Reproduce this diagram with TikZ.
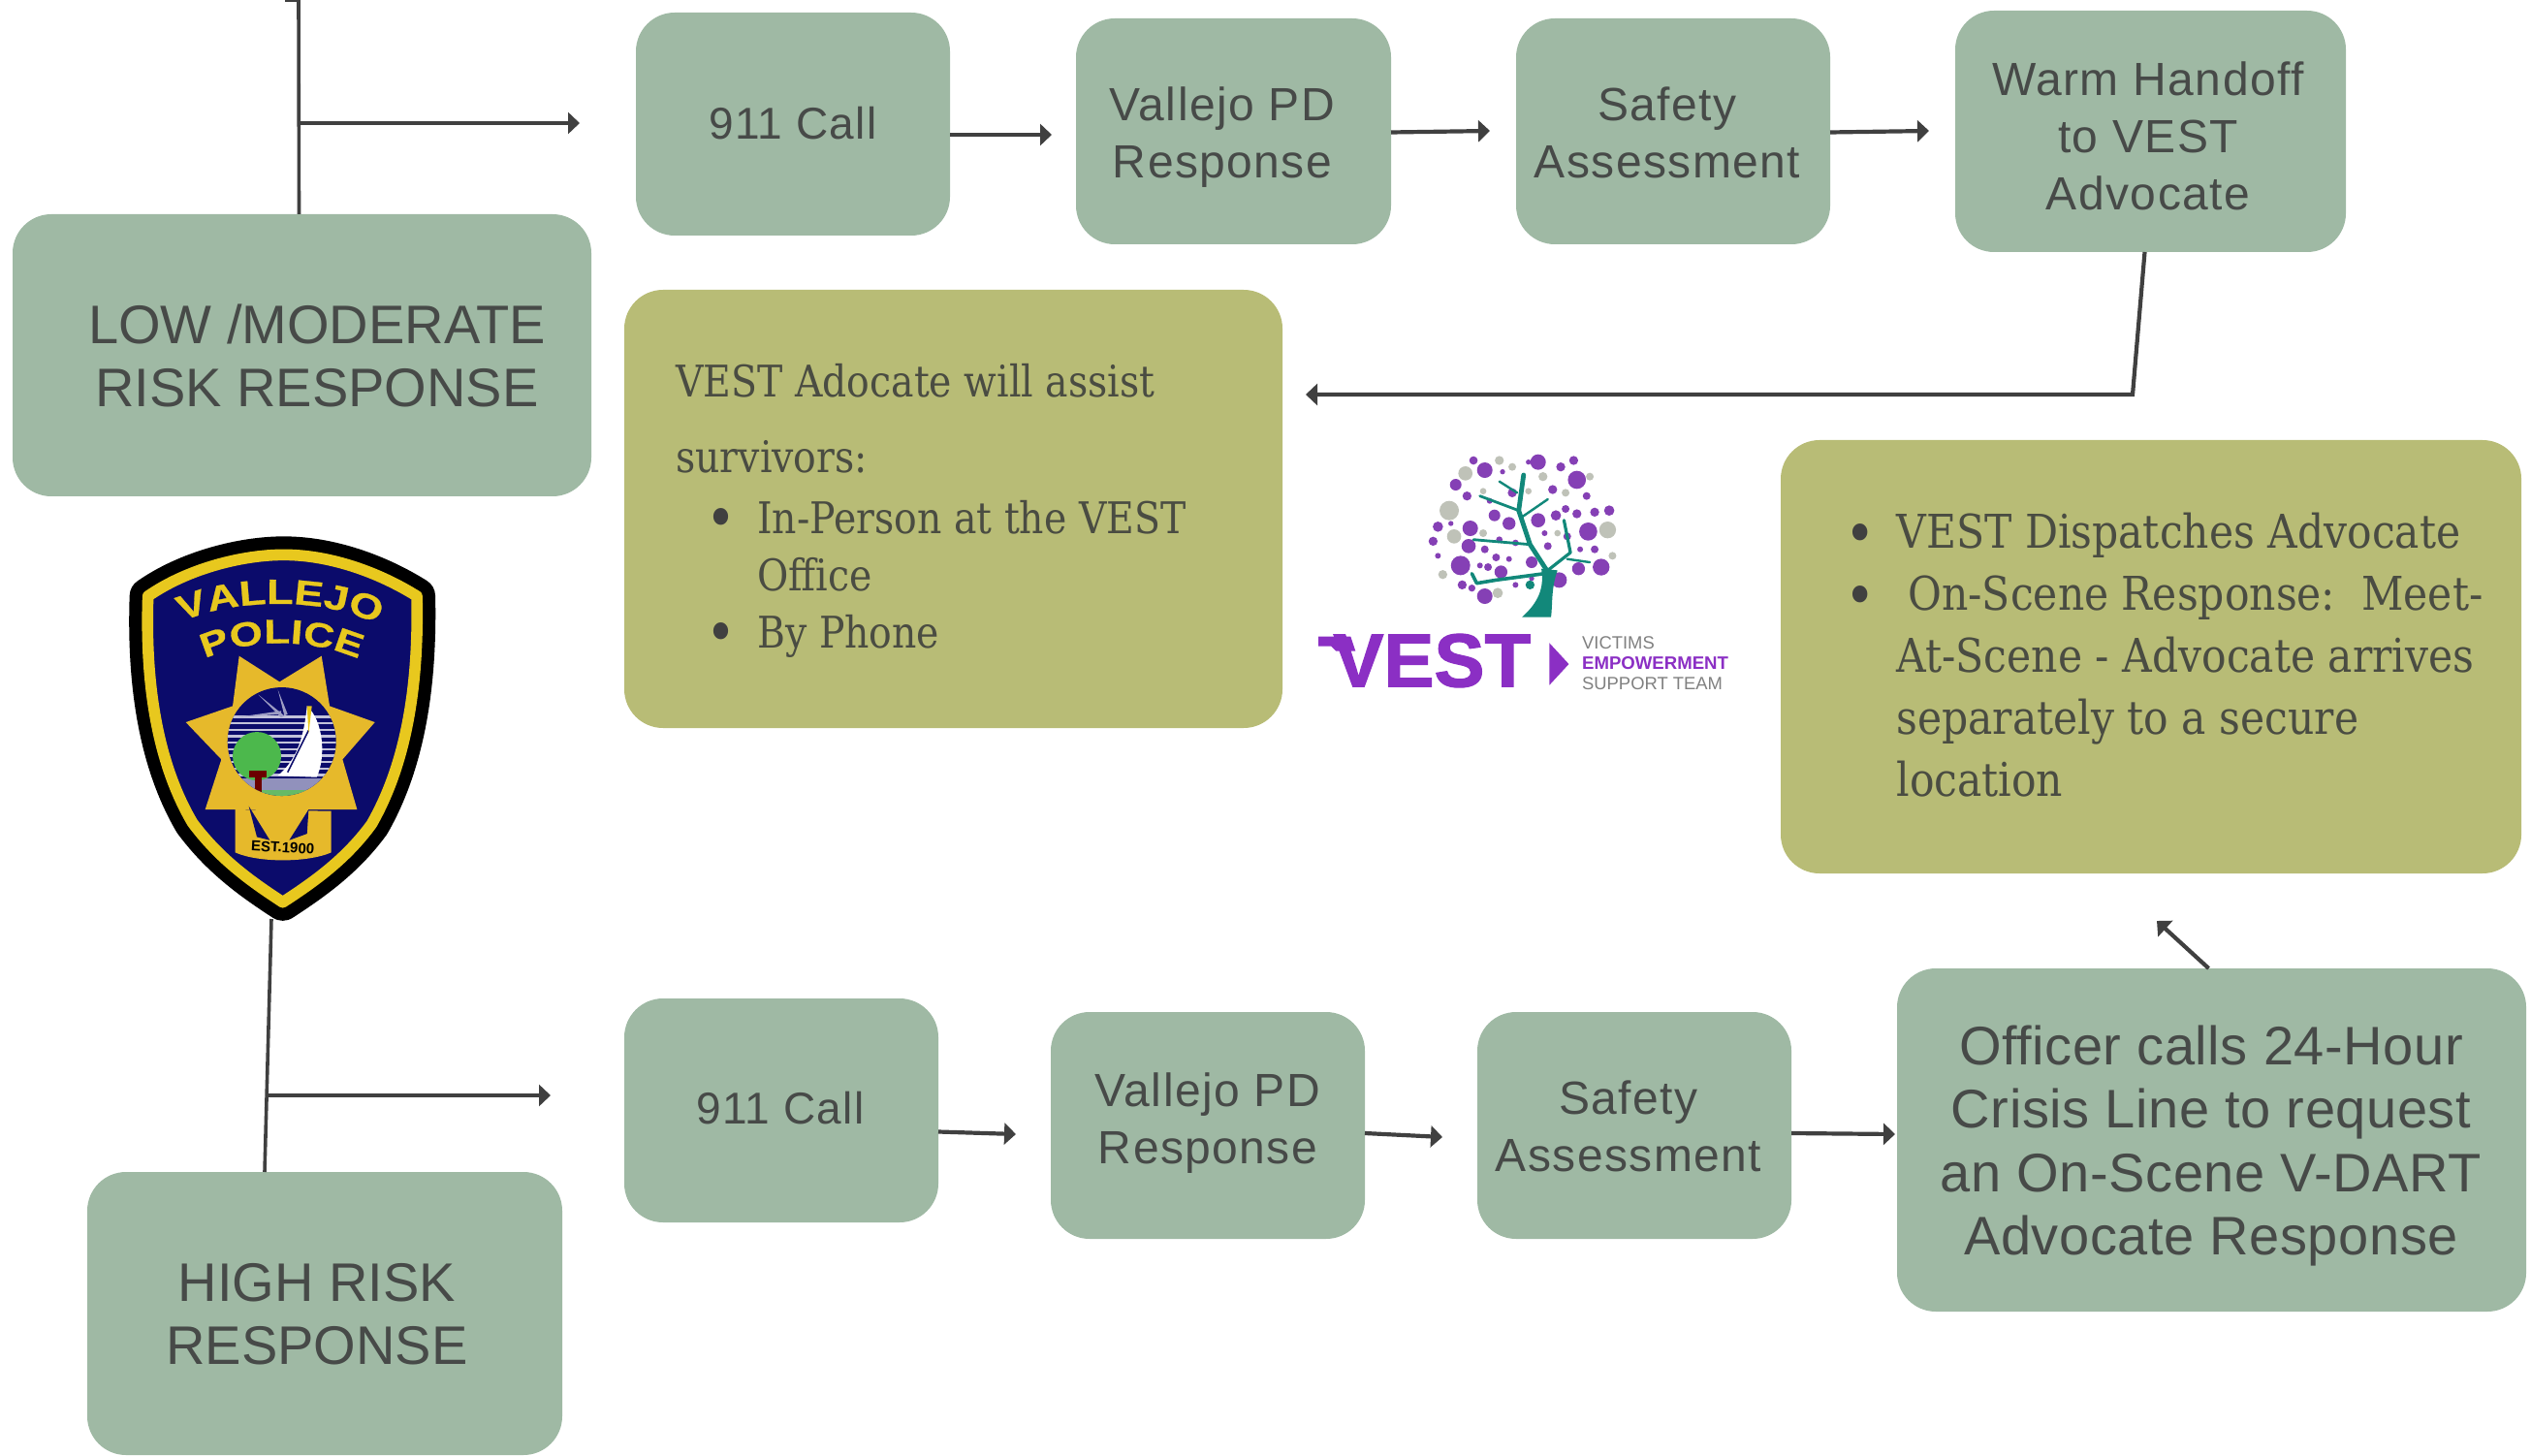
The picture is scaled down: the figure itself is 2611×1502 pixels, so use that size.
\documentclass[tikz,border=0pt]{standalone}
\usepackage{fontspec}
\usetikzlibrary{arrows.meta,decorations.text}
\newfontfamily\cvs[LetterSpace=3]{Liberation Sans}
\newfontfamily\cvo[LetterSpace=1]{Liberation Sans}
\newfontfamily\cvc{Liberation Sans}
\newfontfamily\srf[FakeStretch=0.875]{DejaVu Serif}
\newfontfamily\srw[FakeStretch=0.885]{DejaVu Serif}
\newfontfamily\lsb{Liberation Sans Bold}
\newfontfamily\lsbf[FakeBold=1.5]{Liberation Sans Bold}
\newfontfamily\lsbw[FakeStretch=1.25,FakeBold=0.8]{Liberation Sans Bold}
\newfontfamily\lsn{Liberation Sans}
\definecolor{sage}{HTML}{9FB9A4}
\definecolor{olive}{HTML}{B8BC76}
\definecolor{sagetext}{HTML}{474A48}
\definecolor{olivetext}{HTML}{4A4C42}
\definecolor{wire}{HTML}{404040}
\definecolor{navy}{HTML}{0B0B6B}
\definecolor{bgold}{HTML}{E6B92B}
\definecolor{byellow}{HTML}{E8C81E}
\definecolor{vpurple}{HTML}{8B2FC4}
\definecolor{vteal}{HTML}{12887A}
\definecolor{vgray}{HTML}{BFC2B8}
\definecolor{tpurple}{HTML}{8540B5}
\newcommand\gbox[6]{%
  \pgfmathsetmacro\bw{(#4-#2)*0.5}\pgfmathsetmacro\bh{(#5-#3)*0.5}%
  \node[#6,minimum width=\bw pt,minimum height=\bh pt,anchor=north west] (#1) at (#2,#3) {};}
\newcommand\vpfont{\lsbw\fontsize{18}{20}\selectfont\color{byellow}}
\newcommand\vpfontb{\lsbw\fontsize{17.5}{20}\selectfont\color{byellow}}
\newcommand\blt{\llap{\raisebox{-2.8pt}{\color{wire}\fontsize{30}{30}\selectfont •}\hspace{11pt}}}
\newcommand\shieldline{(158,285) .. controls (280,200) and (450,157) .. (578,157) .. controls (720,157) and (870,210) .. (990,285) .. controls (995,520) and (970,780) .. (850,990) .. controls (770,1100) and (670,1170) .. (575,1232) .. controls (480,1170) and (380,1100) .. (295,985) .. controls (175,780) and (150,520) .. cycle}
\tikzset{
  sagebox/.style={fill=sage,draw=none,rounded corners=20pt,inner sep=0pt,outer sep=0pt},
  olivebox/.style={fill=olive,draw=none,rounded corners=20pt,inner sep=0pt,outer sep=0pt},
  flowtext/.style={font=\cvs\fontsize{24}{29.5}\selectfont,text=sagetext,align=center,inner sep=0pt},
  calltext/.style={font=\cvs\fontsize{23}{29.5}\selectfont,text=sagetext,align=center,inner sep=0pt},
  bigtext/.style={font=\cvo\fontsize{28}{32.7}\selectfont,text=sagetext,align=center,inner sep=0pt},
  capstext/.style={font=\cvc\fontsize{28}{32.5}\selectfont,text=sagetext,align=center,inner sep=0pt},
  serifleft/.style={font=\srf\fontsize{22.5}{29.5}\selectfont,text=olivetext,align=left,inner sep=0pt,anchor=west},
  serifwide/.style={font=\srw\fontsize{24}{32}\selectfont,text=olivetext,align=left,inner sep=0pt,anchor=west},
  link/.style={draw=wire,line width=2.1pt,-{Triangle[length=6pt,width=11pt]}},
  plainlink/.style={draw=wire,line width=1.8pt}
}
\begin{document}
\begin{tikzpicture}[x=0.5pt,y=-0.5pt]
\useasboundingbox (0,0) rectangle (2611,1502);
% boxes
\gbox{low}{13}{221}{610}{512}{sagebox}
\gbox{callA}{656}{13}{980}{243}{sagebox}
\gbox{pdA}{1110}{19}{1435}{252}{sagebox}
\gbox{safeA}{1564}{19}{1888}{252}{sagebox}
\gbox{warm}{2017}{11}{2420}{260}{sagebox}
\gbox{assist}{644}{299}{1323}{751}{olivebox}
\gbox{dispatch}{1837}{454}{2601}{901}{olivebox}
\gbox{callB}{644}{1030}{968}{1261}{sagebox}
\gbox{pdB}{1084}{1044}{1408}{1278}{sagebox}
\gbox{safeB}{1524}{1044}{1848}{1278}{sagebox}
\gbox{officer}{1957}{999}{2606}{1353}{sagebox}
\gbox{high}{90}{1209}{580}{1501}{sagebox}
% box texts
\node[capstext] (tlow) at (327,367) {LOW /MODERATE\\RISK RESPONSE};
\node[calltext] (tcallA) at (818,127) {911 Call};
\node[flowtext] (tpdA) at (1261,142) {Vallejo PD\\Response};
\node[flowtext] (tsafeA) at (1720,137) {Safety\\Assessment};
\node[flowtext] (twarm) at (2216,140) {Warm Handoff\\to VEST\\Advocate};
\node[calltext] (tcallB) at (805,1143) {911 Call};
\node[flowtext] (tpdB) at (1246,1159) {Vallejo PD\\Response};
\node[flowtext] (tsafeB) at (1680,1162) {Safety\\Assessment};
\node[bigtext] (tofficer) at (2281,1182) {Officer calls 24-Hour\\Crisis Line to request\\an On-Scene V-DART\\Advocate Response};
\node[capstext] (thigh) at (327,1356) {HIGH RISK\\RESPONSE};
\node[serifleft,font=\srf\fontsize{22.5}{39}\selectfont] (assisthead) at (697,432) {VEST Adocate will assist\\survivors:};
\node[serifleft] (assistlist) at (781,597) {\blt In-Person at the VEST\\Office\\\blt By Phone};
\node[serifwide] (dispatchlist) at (1956,676) {\blt VEST Dispatches Advocate\\\blt\hspace{6pt}On-Scene Response:\ \ Meet-\\At-Scene - Advocate arrives\\separately to a secure\\location};
% free ends
\coordinate (lowtop) at (308,0);
\coordinate (lowjoin) at (308,127);
\coordinate (lowout) at (598,127);
\coordinate (pdAin) at (1085,139);
\coordinate (safeAin) at (1537,135);
\coordinate (warmin) at (1990,135);
\coordinate (warmbend) at (2200,407);
\coordinate (assistin) at (1347,407);
\coordinate (badgefoot) at (280,948);
\coordinate (highjoin) at (276,1130);
\coordinate (highout) at (568,1130);
\coordinate (pdBin) at (1048,1170);
\coordinate (safeBin) at (1488,1173);
\coordinate (officerin) at (1955,1170);
\coordinate (dispatchin) at (2225,950);
\coordinate (topstub) at (294,0);
% connectors
\draw[plainlink] (lowtop) -- ([xshift=-1.5pt]low.north);
\draw[plainlink] (topstub) -- (lowtop);
\draw[link] (lowjoin) -- (lowout);
\draw[link] ([yshift=-5.5pt]callA.east) -- (pdAin);
\draw[link] ([yshift=-0.5pt]pdA.east) -- (safeAin);
\draw[link] ([yshift=-0.5pt]safeA.east) -- (warmin);
\draw[link] ([xshift=-3pt]warm.south) -- (warmbend) -- (assistin);
\draw[plainlink] (badgefoot) -- ([xshift=-31pt]high.north);
\draw[link] (highjoin) -- (highout);
\draw[link] ([yshift=-11pt]callB.east) -- (pdBin);
\draw[link] ([yshift=-4pt]pdB.east) -- (safeBin);
\draw[link] ([yshift=-4pt]safeB.east) -- (officerin);
\draw[link] ([xshift=-1.5pt]officer.north) -- (dispatchin);
% Vallejo Police badge
\begin{scope}[shift={(100,520)},x=0.1667pt,y=-0.1667pt]
  \draw[black,line width=19pt,line join=round] \shieldline;
  \fill[navy] \shieldline;
  \draw[byellow,line width=5.8pt,line join=round] \shieldline;
  % EST tab
  \fill[bgold] (428,945) -- (428,1078) .. controls (500,1110) and (650,1110) .. (725,1078) -- (725,950) -- cycle;
  % star
  \fill[bgold] (440,470) -- (565,550) -- (695,470) -- (720,625) -- (860,675) -- (760,790) -- (805,945) -- (655,945) -- (565,1045) -- (490,945) -- (335,945) -- (385,790) -- (275,675) -- (420,625) -- cycle;
  \fill[navy] (470,935) -- (535,1040) -- (495,1030) -- cycle;
  \fill[navy] (655,945) -- (595,1040) -- (650,1020) -- cycle;
  % seal
  \fill[navy] (572,735) circle[radius=168];
  \begin{scope}
    \clip (572,735) circle[radius=168];
    \foreach \yy in {655,675,695,715,735,755,775,795,815,835}{\fill[white!75!navy] (400,\yy) rectangle (750,\yy+7);}
    \fill[white!60!navy] (430,660) -- (570,640) -- (570,650) -- cycle;
    \fill[white!60!navy] (500,590) -- (580,655) -- (570,660) -- cycle;
    \fill[white!60!navy] (560,575) -- (590,650) -- (580,655) -- cycle;
    \fill[white!55!navy] (400,850) rectangle (750,895);
    \fill[green!55!black!60!white] (400,885) rectangle (750,930);
    \fill[white] (650,625) .. controls (700,670) and (710,780) .. (680,845) -- (560,840) .. controls (620,790) and (640,720) .. cycle;
    \draw[navy,line width=0.8pt] (655,700) -- (590,830);
    \fill[byellow] (650,625) -- (665,625) -- (655,710) -- cycle;
    \fill[green!60!black!70!white] (495,780) circle[radius=75];
    \fill[black!40!red!70!black] (490,825) rectangle (510,890);
    \fill[black!40!red!70!black] (470,825) rectangle (525,845);
  \end{scope}
  \path[decorate,decoration={text along path,text align=center,text={|\vpfont|VALLEJO}}] (240,375) .. controls (400,290) and (720,280) .. (890,385);
  \path[decorate,decoration={text along path,text align=center,text={|\vpfontb|POLICE}}] (310,492) .. controls (450,410) and (680,410) .. (835,492);
  \node[font=\lsb\fontsize{7.5}{8}\selectfont,text=black,inner sep=0pt,rotate=-3] (est) at (575,1062) {EST.1900};
\end{scope}
% VEST logo
\begin{scope}[shift={(1330,440)},x=0.1667pt,y=-0.1667pt]
  \foreach \xx/\yy/\rr in {545/145/22,650/105/14,690/125/12,785/155/14,930/155/12,495/260/30,510/340/22,985/320/26,475/458/14,645/515/16,1000/400/12,600/330/12,855/205/12,740/200/10,600/200/10,830/330/10}
    {\fill[vgray] (\xx,\yy) circle[radius=\rr];}
  \foreach \xx/\yy/\rr in {605/135/24,770/110/24,890/165/28,840/125/14,880/105/14,570/105/13,515/180/18,550/215/14,690/205/14,815/195/14,770/290/22,680/300/20,635/275/18,560/315/24,460/310/16,445/355/14,555/370/22,605/380/12,640/405/12,530/430/30,460/400/9,615/435/12,655/450/20,750/420/18,835/475/24,895/440/20,965/435/26,925/325/28,990/260/16,945/265/14,890/270/14,825/275/16,860/340/12,800/370/12,945/380/12,605/525/24,565/500/11,535/490/14,700/490/9,920/215/12,855/255/12,650/350/10,700/360/10,590/430/9,900/380/9,790/330/9,620/230/9,660/140/8,740/110/8,500/300/8,680/410/9,750/470/8}
    {\fill[tpurple] (\xx,\yy) circle[radius=\rr];}
  \fill[vteal] (720,590) .. controls (770,545) and (790,500) .. (780,440) -- (830,445) .. controls (810,500) and (815,550) .. (810,590) -- cycle;
  \draw[vteal,line width=2.4pt,line cap=round,line join=round] (800,450) -- (745,365) -- (710,260) -- (725,150);
  \draw[vteal,line width=1.8pt,line cap=round,line join=round] (790,455) -- (640,475) -- (580,485) -- (565,455);
  \draw[vteal,line width=1.4pt,line cap=round] (745,365) -- (570,350);
  \draw[vteal,line width=1.4pt,line cap=round] (710,260) -- (590,215);
  \draw[vteal,line width=1.6pt,line cap=round,line join=round] (800,445) -- (870,390) -- (850,290);
  \draw[vteal,line width=1.2pt,line cap=round] (860,410) -- (930,420);
  \draw[vteal,line width=1.2pt,line cap=round] (720,280) -- (800,225);
  \draw[vteal,line width=1.2pt,line cap=round] (650,170) -- (705,205);
  \fill[vteal] (745,490) circle[radius=14];
  % wordmark
  \node[font=\lsbf\fontsize{39}{39}\selectfont,text=vpurple,inner sep=0pt,anchor=base west] (vest) at (135,805) {VEST};
  \fill[vpurple] (90,650) -- (190,650) -- (205,695) -- (145,695) -- (130,680) -- (90,680) -- cycle;
  \fill[vpurple] (805,670) -- (865,735) -- (805,800) -- cycle;
  \node[font=\lsn\fontsize{9.2}{10}\selectfont,text=gray,inner sep=0pt,anchor=west] (vict) at (905,668) {VICTIMS};
  \node[font=\lsb\fontsize{9.3}{10}\selectfont,text=vpurple,inner sep=0pt,anchor=west] (emp) at (905,732) {EMPOWERMENT};
  \node[font=\lsn\fontsize{9.2}{10}\selectfont,text=gray,inner sep=0pt,anchor=west] (supp) at (905,795) {SUPPORT TEAM};
\end{scope}
\end{tikzpicture}
\end{document}
